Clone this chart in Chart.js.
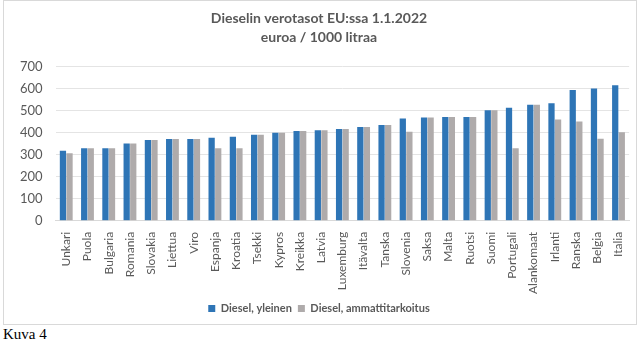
<!DOCTYPE html>
<html>
<head>
<meta charset="utf-8">
<script src="https://cdn.jsdelivr.net/npm/chart.js@4/dist/chart.umd.min.js"></script>
<style>
  body { margin: 0; background: #fff; width: 643px; height: 345px; position: relative; overflow: hidden; }
  #frame { position: absolute; left: 3px; top: 0; width: 634px; height: 325px; border: 1px solid #d9d9d9; box-sizing: border-box; }
  #caption { position: absolute; left: 3px; top: 326px; font-family: "Liberation Serif", serif; font-size: 15px; color: #000; }
</style>
</head>
<body>
<div id="frame"><canvas id="chart"></canvas></div>
<div id="caption">Kuva 4</div>
<script>
// Maat (järjestetty yleisen dieselveron mukaan)
const countries = ['Unkari', 'Puola', 'Bulgaria', 'Romania', 'Slovakia', 'Liettua', 'Viro', 'Espanja', 'Kroatia', 'Tsekki',
  'Kypros', 'Kreikka', 'Latvia', 'Luxemburg', 'Itävalta', 'Tanska', 'Slovenia', 'Saksa', 'Malta', 'Ruotsi',
  'Suomi', 'Portugali', 'Alankomaat', 'Irlanti', 'Ranska', 'Belgia', 'Italia'];

// euroa / 1000 litraa
const dieselGeneral = [318, 330, 330, 351, 367, 372, 372, 378, 382, 391,
  400, 408, 412, 417, 426, 435, 465, 470, 472, 472,
  502, 514, 528, 534, 595, 601, 616];
const dieselCommercial = [307, 330, 330, 351, 367, 372, 372, 330, 330, 391,
  400, 408, 412, 417, 426, 435, 405, 470, 472, 472,
  502, 330, 528, 460, 451, 373, 402];

const yTicks = [0, 100, 200, 300, 400, 500, 600, 700];

const textColor = '#595959';

const ctx = document.getElementById('chart').getContext('2d');
new Chart(ctx, {
  type: 'bar',
  data: {
    labels: countries,
    datasets: [
      {
        label: 'Diesel, yleinen',
        data: dieselGeneral,
        backgroundColor: '#2E75B6',
        barPercentage: 0.95,
        categoryPercentage: 0.62
      },
      {
        label: 'Diesel, ammattitarkoitus',
        data: dieselCommercial,
        backgroundColor: '#AFABAB',
        barPercentage: 0.95,
        categoryPercentage: 0.62
      }
    ]
  },
  options: {
    responsive: true,
    maintainAspectRatio: false,
    animation: false,
    layout: { padding: { left: 3, right: 5, top: 4, bottom: 0 } },
    plugins: {
      title: {
        display: true,
        text: ['Dieselin verotasot EU:ssa 1.1.2022', 'euroa / 1000 litraa'],
        color: textColor,
        font: { family: 'Lato', size: 14, weight: 'bold', lineHeight: 1.35 },
        padding: { top: 4, bottom: 20 }
      },
      legend: {
        position: 'bottom',
        labels: {
          color: textColor,
          boxWidth: 7,
          boxHeight: 7,
          padding: 6,
          font: { family: 'Lato', size: 11, weight: 'bold' }
        }
      },
      tooltip: { enabled: false }
    },
    scales: {
      x: {
        grid: { display: false },
        border: { color: '#d9d9d9' },
        ticks: {
          color: textColor,
          minRotation: 90,
          maxRotation: 90,
          autoSkip: false,
          font: { family: 'Lato', size: 12 }
        }
      },
      y: {
        min: 0,
        max: 700,
        afterBuildTicks: axis => { axis.ticks = yTicks.map(v => ({ value: v })); },
        grid: { color: '#e4e4e4', drawTicks: false },
        border: { display: false },
        ticks: {
          color: textColor,
          padding: 13,
          font: { family: 'Lato', size: 13 }
        }
      }
    }
  }
});
</script>
</body>
</html>
